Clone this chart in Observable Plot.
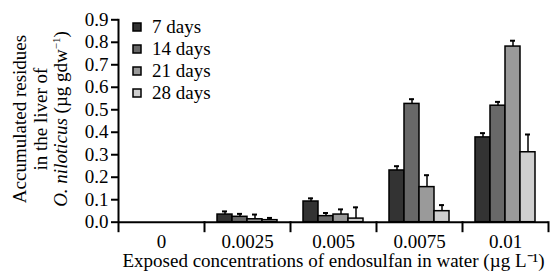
<!DOCTYPE html>
<html>
<head>
<meta charset="utf-8">
<script src="https://cdn.jsdelivr.net/npm/d3@7"></script>
<script src="https://cdn.jsdelivr.net/npm/@observablehq/plot@0.6"></script>
<style>
  html, body { margin: 0; padding: 0; background: #fff; }
  #wrap { position: relative; width: 553px; height: 276px; overflow: hidden; font-family: "Liberation Serif", "Times New Roman", serif; color: #000; }
  #wrap svg.plotsvg { position: absolute; left: 0; top: 0; }
  #ytitle { position: absolute; left: 40.5px; top: 119px; transform: translate(-50%, -50%) rotate(-90deg); white-space: nowrap; text-align: center; font-size: 19px; line-height: 20.5px; }
  #ytitle sup { font-size: 11px; line-height: 0; vertical-align: 7px; }
  #legend { position: absolute; left: 133px; top: 16px; width: 160px; }
  #legend, #legend * { font-family: "Liberation Serif", "Times New Roman", serif !important; font-size: 19px !important; color: #000 !important; }
  #legend > div { margin: 0 !important; min-height: 0 !important; }
  #legend .lg-swatch { height: 22px !important; padding: 0 !important; margin: 0 !important; display: flex; align-items: center; }
  #legend .lg-swatch svg { margin-right: 11px !important; overflow: visible; }
  #legend .lg-swatch rect { stroke: #000; stroke-width: 1.5px; }
</style>
</head>
<body>
<div id="wrap">
  <div id="ytitle">Accumulated residues<br>in the liver of<br><i>O. niloticus</i> (µg gdw<sup>−1</sup>)</div>
  <div id="legend"></div>
</div>
<script>
// Categories (exposure concentrations, µg/L) and series (exposure time)
const concentrations = ["0", "0.0025", "0.005", "0.0075", "0.01"];
const series = ["7 days", "14 days", "21 days", "28 days"];
const seriesColors = ["#333333", "#686868", "#9a9a9a", "#cfcfcf"];

// Mean residues per series, in order of concentrations
const mean7  = [0, 0.034, 0.092, 0.230, 0.377];
const mean14 = [0, 0.024, 0.027, 0.526, 0.518];
const mean21 = [0, 0.013, 0.034, 0.156, 0.781];
const mean28 = [0, 0.009, 0.016, 0.049, 0.311];

// Error (upper error bar length) per series
const err7  = [0, 0.014, 0.014, 0.019, 0.019];
const err14 = [0, 0.013, 0.014, 0.021, 0.017];
const err21 = [0, 0.021, 0.023, 0.053, 0.026];
const err28 = [0, 0.010, 0.050, 0.027, 0.079];

const yTicks = [0, 0.1, 0.2, 0.3, 0.4, 0.5, 0.6, 0.7, 0.8, 0.9];

const means = [mean7, mean14, mean21, mean28];
const errs = [err7, err14, err21, err28];
const data = [];
concentrations.forEach((c, i) => {
  series.forEach((s, j) => {
    data.push({conc: c, series: s, mean: means[j][i], err: errs[j][i]});
  });
});
const errData = data.filter(d => d.err > 0);

const chart = Plot.plot({
  width: 553,
  height: 276,
  marginLeft: 117,
  marginRight: 4.5,
  marginTop: 19.3,
  marginBottom: 54.3,
  className: "plotsvg",
  style: {fontFamily: "'Liberation Serif', 'Times New Roman', serif", fontSize: "19px", color: "#000", background: "transparent", overflow: "visible"},
  fx: {domain: concentrations, padding: 0, label: null},
  x: {domain: series, paddingInner: 0, paddingOuter: 0.7, axis: null},
  y: {domain: [0, 0.9], axis: null},
  color: {domain: series, range: seriesColors},
  marks: [
    Plot.barY(data, {fx: "conc", x: "series", y: "mean", fill: "series", stroke: "#000", strokeWidth: 1.5}),
    Plot.ruleX(errData, {fx: "conc", x: "series", y1: "mean", y2: d => d.mean + d.err, stroke: "#000", strokeWidth: 1.5}),
    Plot.tickY(errData, {fx: "conc", x: "series", y: d => d.mean + d.err, stroke: "#000", strokeWidth: 2, insetLeft: 5, insetRight: 5}),
    Plot.ruleY([0], {stroke: "#000", strokeWidth: 2}),
    Plot.frame({anchor: "left", facetAnchor: "left", insetBottom: -9, stroke: "#000", strokeWidth: 2}),
    Plot.frame({anchor: "right", insetTop: 202.4, insetBottom: -9, stroke: "#000", strokeWidth: 2}),
    Plot.axisY({ticks: yTicks, tickFormat: d3.format(".1f"), tickSize: 7, tickPadding: 3, strokeWidth: 2, label: null}),
    Plot.axisFx({anchor: "bottom", tickSize: 0, tickPadding: 12, label: "Exposed concentrations of endosulfan in water (µg L⁻¹)", labelAnchor: "center", labelOffset: 45})
  ]
});
document.getElementById("wrap").insertBefore(chart, document.getElementById("ytitle"));

const legend = Plot.legend({
  color: {domain: series, range: seriesColors},
  legend: "swatches",
  columns: 1,
  swatchSize: 8,
  className: "lg",
  style: {fontFamily: "'Liberation Serif', 'Times New Roman', serif", fontSize: "19px", color: "#000", background: "transparent"}
});
document.getElementById("legend").appendChild(legend);
</script>
</body>
</html>
